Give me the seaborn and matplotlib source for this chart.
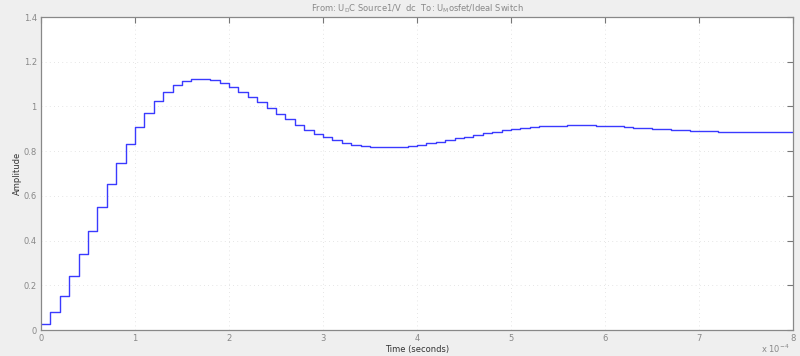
import numpy as np
import pandas as pd
import matplotlib
matplotlib.use("Agg")
import matplotlib.pyplot as plt
import seaborn as sns
from matplotlib.ticker import MultipleLocator, FuncFormatter

# Sample period (seconds) and step-response samples (held between samples)
sample_period = 1e-5
amplitude = [
    0.027, 0.079, 0.153, 0.240, 0.342, 0.445, 0.549, 0.652, 0.746, 0.832,
    0.908, 0.972, 1.024, 1.065, 1.097, 1.115, 1.125, 1.125, 1.119, 1.104,
    1.089, 1.064, 1.042, 1.020, 0.994, 0.968, 0.942, 0.918, 0.896, 0.877,
    0.862, 0.848, 0.838, 0.829, 0.823, 0.819, 0.818, 0.818, 0.819, 0.823,
    0.829, 0.836, 0.842, 0.850, 0.857, 0.865, 0.874, 0.881, 0.887, 0.895,
    0.901, 0.905, 0.909, 0.911, 0.913, 0.914, 0.916, 0.916, 0.915, 0.914,
    0.913, 0.912, 0.909, 0.906, 0.903, 0.900, 0.898, 0.897, 0.895, 0.892,
    0.891, 0.890, 0.887, 0.886, 0.885, 0.884, 0.884, 0.884, 0.884, 0.884,
]
title_text = r"From: U$_{\mathrm{D}}$C Source1/V  dc  To: U$_{\mathrm{M}}$osfet/Ideal Switch"
x_label = "Time (seconds)"
y_label = "Amplitude"
x_scale_text = r"x 10$^{-4}$"
y_ticks = [0, 0.2, 0.4, 0.6, 0.8, 1.0, 1.2, 1.4]
y_tick_labels = ["0", "0.2", "0.4", "0.6", "0.8", "1", "1.2", "1.4"]

n = len(amplitude)
time = np.arange(n + 1) * sample_period
vals = amplitude + [amplitude[-1]]
df = pd.DataFrame({"t": time, "y": vals})

sns.set_theme(style="white")
plt.rcParams["font.family"] = ["DejaVu Sans"]

fig = plt.figure(figsize=(8, 3.56), dpi=100, facecolor="#efefef")
ax = fig.add_axes([0.05125, 0.073, 0.94, 0.879])
ax.set_facecolor("white")

sns.lineplot(data=df, x="t", y="y", ax=ax, drawstyle="steps-post",
             color="#3a3aff", linewidth=1.0)

ax.set_xlim(0, 8e-4)
ax.set_ylim(0, 1.4)
ax.xaxis.set_major_locator(MultipleLocator(1e-4))
ax.xaxis.set_major_formatter(FuncFormatter(lambda v, p: f"{v * 1e4:g}"))
ax.set_yticks(y_ticks)
ax.set_yticklabels(y_tick_labels)

tick_col = "#777777"
ax.tick_params(axis="both", direction="in", length=4, width=0.8,
               colors=tick_col, labelsize=6, top=True, right=True,
               labelcolor="#888888", pad=3)

for s in ax.spines.values():
    s.set_color("#888888")
    s.set_linewidth(0.9)

ax.grid(True, linestyle=(0, (1, 4)), color="#dddddd", linewidth=0.6)

ax.set_title(title_text, fontsize=6, color="#888888", pad=4)
ax.set_xlabel(x_label, fontsize=6, color="#333333", labelpad=1)
ax.set_ylabel(y_label, fontsize=6, color="#333333", labelpad=1)
fig.text(0.969, 0.004, x_scale_text, fontsize=6, color="#888888",
         ha="center", va="bottom")

fig.savefig("out.png", dpi=100, facecolor=fig.get_facecolor())
